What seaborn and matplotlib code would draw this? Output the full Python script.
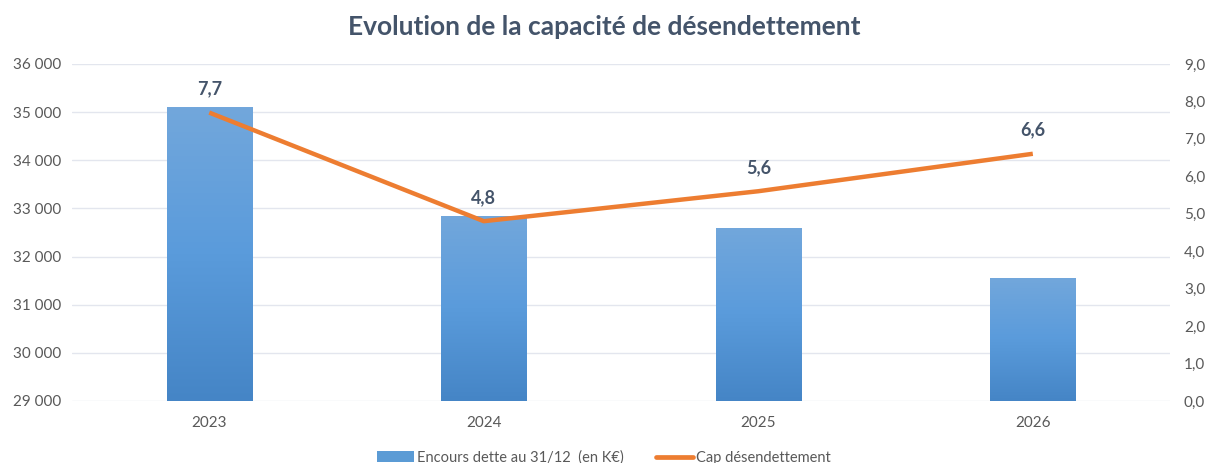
import numpy as np
import pandas as pd
import matplotlib
matplotlib.use("Agg")
import matplotlib.pyplot as plt
import seaborn as sns
from matplotlib.patches import Patch
from matplotlib.lines import Line2D
from matplotlib.ticker import FuncFormatter
from matplotlib.colors import LinearSegmentedColormap

# Data
years = ["2023", "2024", "2025", "2026"]
encours = [35100, 32850, 32600, 31550]
cap_desendettement = [7.7, 4.8, 5.6, 6.6]

df = pd.DataFrame({"annee": years, "encours": encours, "cap": cap_desendettement})

sns.set_theme(style="white")
plt.rcParams["font.family"] = ["Lato", "DejaVu Sans"]

text_col = "#595959"
title_col = "#44546A"
grid_col = "#e3e6ee"
bar_col = "#5b9bd5"
line_col = "#ED7D31"

y_min, y_max = 29000, 36000

fig = plt.figure(figsize=(12.08, 4.63), dpi=100)
ax = fig.add_axes([0.0596, 0.134, 0.909, 0.728])

sns.barplot(data=df, x="annee", y="encours", color=bar_col, width=0.31,
            saturation=1, ax=ax, zorder=2)
ax.set_ylim(y_min, y_max)
ax.set_xlim(-0.5, 3.5)
ax.set_yticks(np.arange(y_min, y_max + 1, 1000))
ax.yaxis.set_major_formatter(FuncFormatter(lambda v, p: f"{int(v):,}".replace(",", " ")))
ax.grid(axis="y", color=grid_col, linewidth=1, zorder=0)
ax.set_axisbelow(True)
ax.set_xlabel("")
ax.set_ylabel("")
for s in ax.spines.values():
    s.set_visible(False)
ax.tick_params(axis="both", length=0, labelsize=11, labelcolor=text_col, pad=8)
ax.tick_params(axis="x", pad=11)

# gradient fill on bars (darker at the bottom)
cmap = LinearSegmentedColormap.from_list("g", ["#4585c6", "#5a9bdb", "#72a7dc"])
grad = np.linspace(0, 1, 256).reshape(-1, 1)
for p in ax.patches:
    x0, w = p.get_x(), p.get_width()
    top = p.get_y() + p.get_height()
    im = ax.imshow(grad, cmap=cmap, origin="lower", aspect="auto",
                   extent=[x0, x0 + w, y_min, top], zorder=3)
    im.set_clip_path(p)
    p.set_edgecolor("none")
ax.set_xlim(-0.5, 3.5)
ax.set_ylim(y_min, y_max)

ax2 = ax.twinx()
sns.lineplot(data=df, x="annee", y="cap", color=line_col, linewidth=3.2,
             ax=ax2, solid_capstyle="butt", zorder=4)
ax2.set_ylim(0, 9)
ax2.set_yticks(np.arange(0, 9.1, 1))
ax2.yaxis.set_major_formatter(FuncFormatter(lambda v, p: f"{v:.1f}".replace(".", ",")))
ax2.set_ylabel("")
for s in ax2.spines.values():
    s.set_visible(False)
ax2.tick_params(axis="y", length=0, labelsize=11, labelcolor=text_col, pad=10)

for i, v in enumerate(cap_desendettement):
    ax2.annotate(f"{v:.1f}".replace(".", ","), (i, v), xytext=(0, 11),
                 textcoords="offset points", ha="center", va="bottom",
                 fontsize=13, fontweight="bold", color=title_col)

fig.suptitle("Evolution de la capacité de désendettement", y=0.968,
             fontsize=19, fontweight="bold", color=title_col)

handles = [Patch(facecolor=bar_col, edgecolor="none"),
           Line2D([0], [0], color=line_col, linewidth=3.4)]
labels = ["Encours dette au 31/12  (en K€)", "Cap désendettement"]
fig.legend(handles, labels, loc="center", bbox_to_anchor=(0.5, 0.012), ncol=2,
           frameon=False, fontsize=10.5, labelcolor=text_col, handlelength=2.5,
           handletextpad=0.25, columnspacing=2.2)

fig.savefig("out.png", dpi=100)
